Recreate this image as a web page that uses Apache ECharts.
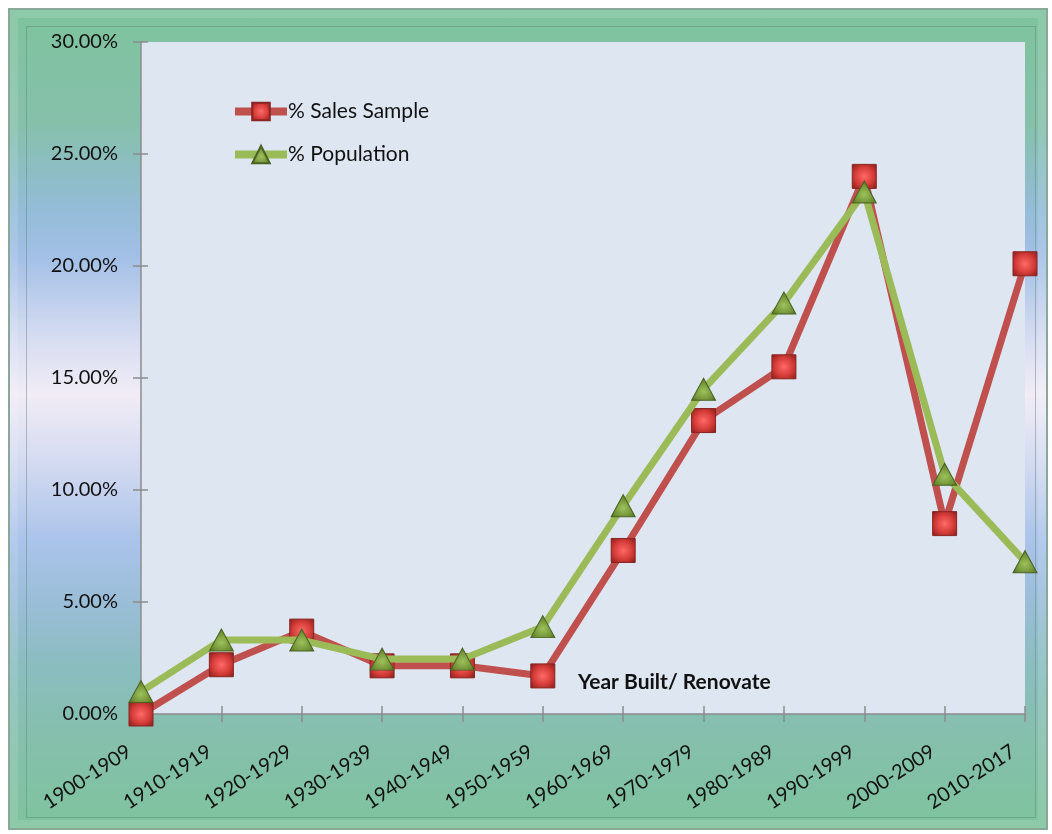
<!DOCTYPE html>
<html>
<head>
<meta charset="utf-8">
<script src="https://cdn.jsdelivr.net/npm/echarts@6/dist/echarts.min.js"></script>
<style>
  body { margin: 0; background: #fff; }
  .wrap { position: relative; width: 1052px; height: 834px; }
  .frame {
    position: absolute; left: 8px; top: 8px; width: 1036px; height: 818px;
    border: 2px solid #8aa89a;
    background: linear-gradient(to bottom,
      #7ec39d 0%, #86c0ab 14%, #93bcd6 24%, #a2bfe6 30%, #d6dcf1 40%,
      #f1ecf6 47%, #d5dbf1 55%, #aac3ea 65%, #99bdd6 73%, #8bbdc0 80%,
      #86bfae 88%, #7ec39d 100%);
    box-shadow: inset 0 0 0 8px rgba(255,255,255,0.12);
  }
  .inner {
    position: absolute; left: 16px; top: 16px; right: 10px; bottom: 10px;
    border: 1px solid rgba(90,130,120,0.45);
  }
  #chart { position: absolute; left: 0; top: 0; width: 1052px; height: 834px; }
</style>
</head>
<body>
<div class="wrap">
  <div class="frame"><div class="inner"></div></div>
  <div id="chart"></div>
</div>
<script>
// categories
const years = ["1900-1909", "1910-1919", "1920-1929", "1930-1939", "1940-1949", "1950-1959",
  "1960-1969", "1970-1979", "1980-1989", "1990-1999", "2000-2009", "2010-2017"];
// % Sales Sample
const salesSample = [0.0, 2.2, 3.7, 2.15, 2.15, 1.7, 7.3, 13.1, 15.5, 24.0, 8.5, 20.1];
// % Population
const population = [1.0, 3.3, 3.3, 2.45, 2.45, 3.9, 9.3, 14.5, 18.35, 23.3, 10.7, 6.8];

const font = "Lato, 'Noto Sans', sans-serif";
const axisGrey = "#8c8c8c";

// bevel-ish marker fills
const redFill = new echarts.graphic.RadialGradient(0.5, 0.5, 0.7, [
  { offset: 0, color: "#ff6a66" },
  { offset: 0.55, color: "#d23a36" },
  { offset: 1, color: "#7e1b18" }
]);
const greenFill = new echarts.graphic.RadialGradient(0.5, 0.6, 0.7, [
  { offset: 0, color: "#9dc25c" },
  { offset: 0.6, color: "#6f8f33" },
  { offset: 1, color: "#3e521c" }
]);

const chart = echarts.init(document.getElementById("chart"), null, { renderer: "canvas" });

chart.setOption({
  backgroundColor: "transparent",
  animation: false,
  textStyle: { fontFamily: font },
  grid: {
    left: 141, right: 27, top: 42, bottom: 120,
    show: true, backgroundColor: "#dde6f1", borderWidth: 0
  },
  legend: {
    left: 226, top: 96, orient: "vertical",
    itemWidth: 52, itemHeight: 22, itemGap: 22,
    lineStyle: { width: 8 },
    textStyle: { fontSize: 21, color: "#111", fontFamily: font, padding: [0, 0, 0, -4] },
    data: ["% Sales Sample", "% Population"]
  },
  xAxis: [
    {
      type: "category", data: years, boundaryGap: false,
      axisLine: { lineStyle: { color: axisGrey, width: 1.5 } },
      axisTick: { length: 8, lineStyle: { color: axisGrey, width: 1.5 } },
      axisLabel: {
        rotate: 33, fontSize: 20, color: "#111", margin: 28, fontFamily: font,
        padding: [0, 14, 0, 0]
      }
    },
    {
      type: "category", data: years, boundaryGap: false, position: "bottom",
      axisLine: { show: false },
      axisTick: { inside: true, length: 8, lineStyle: { color: axisGrey, width: 1.5 } },
      axisLabel: { show: false }
    }
  ],
  yAxis: [
    {
      type: "value", min: 0, max: 30, interval: 5,
      splitLine: { show: false },
      axisLine: { show: true, lineStyle: { color: axisGrey, width: 1.5 } },
      axisTick: { show: true, length: 8, lineStyle: { color: axisGrey, width: 1.5 } },
      axisLabel: {
        fontSize: 20, color: "#111", margin: 23, fontFamily: font,
        formatter: v => v.toFixed(2) + "%"
      }
    },
    {
      type: "value", min: 0, max: 30, interval: 5, position: "left",
      splitLine: { show: false },
      axisLine: { show: false },
      axisTick: { show: true, inside: true, length: 7, lineStyle: { color: axisGrey, width: 1.5 } },
      axisLabel: { show: false }
    }
  ],
  graphic: [
    {
      type: "text", left: 578, top: 672,
      style: { text: "Year Built/ Renovate", font: "bold 21px " + font, fill: "#111" }
    }
  ],
  series: [
    {
      name: "% Sales Sample", type: "line", data: salesSample,
      symbol: "rect", symbolSize: 24,
      lineStyle: { color: "#c0504d", width: 7 },
      itemStyle: { color: redFill, borderColor: "#8a2522", borderWidth: 1 },
      z: 2
    },
    {
      name: "% Population", type: "line", data: population,
      symbol: "triangle", symbolSize: [24, 22],
      lineStyle: { color: "#9bbb59", width: 7 },
      itemStyle: { color: greenFill, borderColor: "#4a6224", borderWidth: 1 },
      z: 3
    }
  ]
});
</script>
</body>
</html>
